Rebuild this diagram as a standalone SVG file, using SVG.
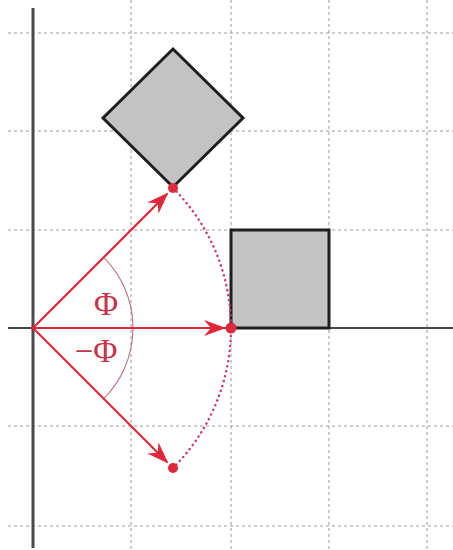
<svg xmlns="http://www.w3.org/2000/svg" width="453" height="550" viewBox="0 0 453 550">
<style>
.grid{stroke:#9a9a9a;stroke-width:1;stroke-dasharray:3 3;fill:none}
.axis{stroke:#4a4a4a;fill:none}
.shape{fill:#c3c3c5;stroke:#1e1e1e;stroke-width:3;stroke-linejoin:miter}
.vec{stroke:#e0283c;stroke-width:2.2;fill:none;marker-end:url(#ah)}
.dot{fill:#e0283c}
.lbl{font-family:"Liberation Serif","DejaVu Serif",serif;font-size:33px;fill:#c8344c;text-anchor:middle}
</style>
<defs>
<marker id="ah" viewBox="0 0 22 16" refX="20" refY="8" markerWidth="22" markerHeight="16" markerUnits="userSpaceOnUse" orient="auto">
<path d="M0,0 L22,8 L0,16 L7,8 Z" fill="#e0283c"/>
</marker>
</defs>
<rect width="453" height="550" fill="#fff"/>
<g id="grid">
<line class="grid" x1="131" y1="0" x2="131" y2="550"/>
<line class="grid" x1="231" y1="0" x2="231" y2="550"/>
<line class="grid" x1="329" y1="0" x2="329" y2="550"/>
<line class="grid" x1="427" y1="0" x2="427" y2="550"/>
<line class="grid" x1="8" y1="33" x2="453" y2="33"/>
<line class="grid" x1="8" y1="131" x2="453" y2="131"/>
<line class="grid" x1="8" y1="230" x2="453" y2="230"/>
<line class="grid" x1="8" y1="426" x2="453" y2="426"/>
<line class="grid" x1="8" y1="526" x2="453" y2="526"/>
</g>
<g id="axes">
<line class="axis" x1="33" y1="8" x2="33" y2="548" stroke-width="3"/>
<line class="axis" x1="8" y1="328" x2="453" y2="328" stroke-width="2"/>
</g>
<g id="square">
<rect class="shape" x="231" y="230" width="98" height="98"/>
</g>
<g id="diamond">
<polygon class="shape" points="173,49 243,118 173,187 103,118"/>
</g>
<g id="angle">
<path d="M103.7,257.3 A100,100 0 0 1 103.7,398.7" fill="none" stroke="#c07a8a" stroke-width="1.2"/>
<text class="lbl" x="106" y="315">Φ</text>
<text class="lbl" x="96" y="362">−Φ</text>
</g>
<g id="connectors">
<path d="M173,188 A198,198 0 0 1 173,468" fill="none" stroke="#c8406a" stroke-width="2.5" stroke-dasharray="0.1 5" stroke-linecap="round"/>
<line class="vec" x1="33" y1="328" x2="167" y2="194"/>
<line class="vec" x1="33" y1="328" x2="224" y2="328"/>
<line class="vec" x1="33" y1="328" x2="167" y2="462"/>
<circle class="dot" cx="173" cy="188" r="5"/>
<circle class="dot" cx="231" cy="328" r="5.5"/>
<circle class="dot" cx="173" cy="468" r="5"/>
<circle class="dot" cx="33" cy="328" r="2"/>
</g>
</svg>
